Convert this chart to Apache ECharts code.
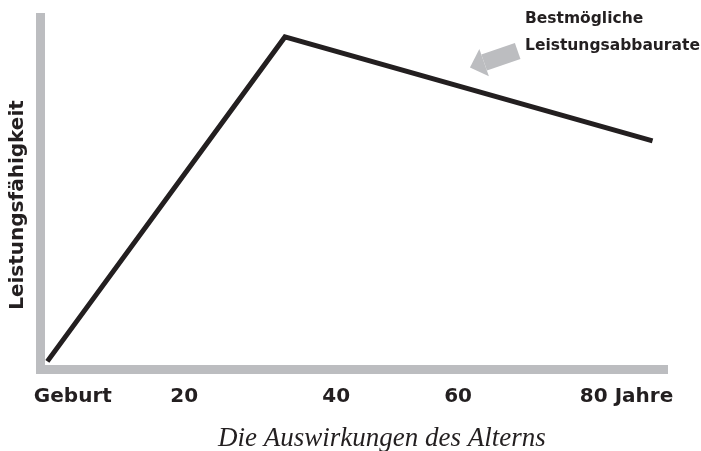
<!DOCTYPE html>
<html>
<head>
<meta charset="utf-8">
<script src="https://cdn.jsdelivr.net/npm/echarts@6/dist/echarts.min.js"></script>
<style>
  html, body { margin: 0; padding: 0; background: #fff; }
  #chart { width: 701px; height: 451px; }
</style>
</head>
<body>
<div id="chart"></div>
<script>
// Daten: Alter (Jahre) und relative Leistungsfähigkeit
const ages = [0, 34.7, 88.4]
const performance = [0, 100, 68]
const tickValues = [0, 20, 40, 60, 80]
const tickLabels = ['Geburt', '20', '40', '60', '80 Jahre']

// Pfeil zur Abbaurate (Alter, Leistung): Schaftende -> Basis der Spitze
const arrowFrom = [68.7, 95.7]
const arrowTo = [63.8, 92.1]

const axisGray = '#bcbdc0'
const inkColor = '#231f20'
const labelFont = '"DejaVu Sans", sans-serif'

const chart = echarts.init(document.getElementById('chart'))

const richStyle = (pad) => ({
  fontFamily: labelFont, fontWeight: 'bold', fontSize: 20, color: inkColor, padding: [0, 0, 0, pad]
})

const option = {
  animation: false,
  title: {
    text: 'Die Auswirkungen des Alterns',
    left: 218,
    top: 425,
    padding: 0,
    textStyle: {
      fontFamily: '"Liberation Serif", serif',
      fontStyle: 'italic',
      fontWeight: 'normal',
      fontSize: 27,
      color: inkColor
    }
  },
  grid: {
    left: 40.5,
    top: 17.5,
    right: 37.5,
    bottom: 81.5,
    containLabel: false,
    outerBoundsMode: 'none'
  },
  xAxis: {
    type: 'value',
    min: -1,
    max: 90,
    axisLine: {
      show: true,
      onZero: false,
      lineStyle: { color: axisGray, width: 9, cap: 'square' }
    },
    axisTick: { show: false },
    splitLine: { show: false },
    axisLabel: {
      margin: 17,
      showMinLabel: true,
      showMaxLabel: true,
      hideOverlap: false,
      customValues: tickValues,
      formatter: (val) => {
        const idx = tickValues.indexOf(val)
        if (idx === 0) return '{g|' + tickLabels[idx] + '}'
        if (idx === 2) return '{m|' + tickLabels[idx] + '}'
        if (idx === 4) return '{j|' + tickLabels[idx] + '}'
        return idx >= 0 ? tickLabels[idx] : ''
      },
      fontFamily: labelFont,
      fontWeight: 'bold',
      fontSize: 20,
      color: inkColor,
      rich: {
        g: richStyle(51),
        m: richStyle(30),
        j: richStyle(63)
      }
    }
  },
  yAxis: {
    type: 'value',
    min: -2.5,
    max: 106,
    name: 'Leistungsfähigkeit',
    nameLocation: 'middle',
    nameGap: 13,
    nameTextStyle: {
      fontFamily: labelFont,
      fontWeight: 'bold',
      fontSize: 20,
      color: inkColor,
      padding: [0, 23, 0, 0]
    },
    axisLine: {
      show: true,
      onZero: false,
      lineStyle: { color: axisGray, width: 9, cap: 'square' }
    },
    axisTick: { show: false },
    axisLabel: { show: false },
    splitLine: { show: false }
  },
  graphic: [
    {
      type: 'text',
      left: 525,
      top: 5,
      style: {
        text: 'Bestmögliche\nLeistungsabbaurate',
        fontFamily: labelFont,
        fontWeight: 'bold',
        fontSize: 15.5,
        lineHeight: 27,
        fill: inkColor
      }
    }
  ],
  series: [
    {
      type: 'line',
      data: ages.map((a, i) => [a, performance[i]]),
      symbol: 'none',
      lineStyle: { color: inkColor, width: 5, join: 'miter', cap: 'butt' },
      markLine: {
        silent: true,
        symbol: ['none', 'path://M50,0 L100,100 L0,100 Z'],
        symbolSize: [29, 15],
        symbolOffset: [0, [0, -7.5]],
        label: { show: false },
        lineStyle: { color: axisGray, width: 17, type: 'solid', cap: 'butt' },
        data: [[{ coord: arrowFrom }, { coord: arrowTo }]]
      }
    }
  ]
}

chart.setOption(option)
</script>
</body>
</html>
